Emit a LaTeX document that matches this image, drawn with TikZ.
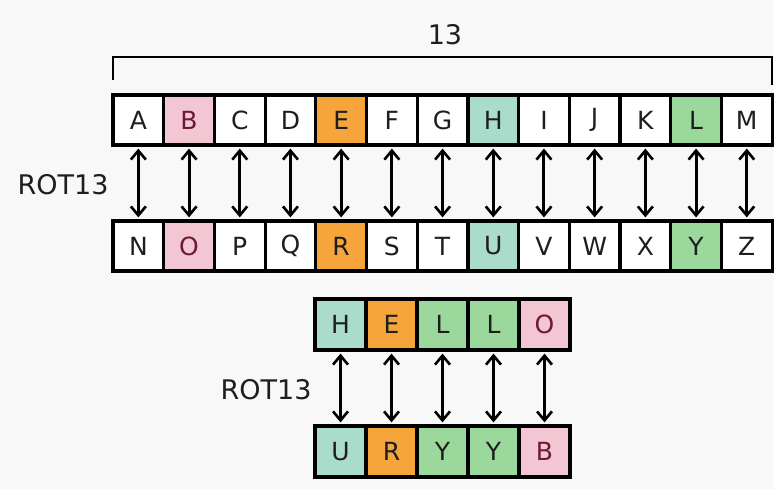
\documentclass[tikz,border=0pt]{standalone}
\usepackage{fontspec}
\setmainfont{DejaVu Sans}
\usetikzlibrary{arrows.meta}
\definecolor{bg}{HTML}{F8F8F8}
\definecolor{cpink}{HTML}{F2C6D2}
\definecolor{corange}{HTML}{F5A53A}
\definecolor{cteal}{HTML}{A9DCCB}
\definecolor{cgreen}{HTML}{9BD89B}
\definecolor{maroon}{HTML}{6B1A35}
\definecolor{ink}{HTML}{1E1E1E}
\tikzset{
  cell/.style={draw=black, line width=3.2pt, minimum width=50.7pt, minimum height=50pt,
    inner sep=0pt, font=\fontsize{25}{25}\selectfont, text=ink},
  cellb/.style={cell, minimum width=51pt, minimum height=51pt},
  dbl/.style={line width=3pt, {Straight Barb[length=9pt,width=15pt,line width=2.6pt]}-{Straight Barb[length=9pt,width=15pt,line width=2.6pt]}},
  lbl/.style={font=\fontsize{27}{27}\selectfont, text=ink, inner sep=0pt},
}
\begin{document}
\begin{tikzpicture}[x=1pt,y=-1pt]
\useasboundingbox (0,0) rectangle (774,489);
\fill[bg] (0,0) rectangle (774,489);
% brace
\draw[line width=2.6pt] (113,80) -- (113,57) -- (772,57) -- (772,85);
\node[lbl] (n13) at (445,35) {13};
% top rows
\foreach \t/\b/\f/\c [count=\i from 0] in {A/N/white/ink, B/O/cpink/maroon, C/P/white/ink, D/Q/white/ink, E/R/corange/ink, F/S/white/ink, G/T/white/ink, H/U/cteal/ink, I/V/white/ink, J/W/white/ink, K/X/white/ink, L/Y/cgreen/ink, M/Z/white/ink}{
  \node[cell, fill=\f, text=\c] (t\i) at ({138.35+50.7*\i},120) {\t};
  \node[cell, fill=\f, text=\c] (b\i) at ({138.35+50.7*\i},246) {\b};
  \path (t\i.south) ++(0,2) coordinate (ta\i);
  \path (b\i.north) ++(0,-2) coordinate (ba\i);
  \draw[dbl] (ta\i) -- (ba\i);
}
\node[lbl] (rot1) at (63,185) {ROT13};
% HELLO
\foreach \t/\b/\f/\c [count=\i from 0] in {H/U/cteal/ink, E/R/corange/ink, L/Y/cgreen/ink, L/Y/cgreen/ink, O/B/cpink/maroon}{
  \node[cellb, fill=\f, text=\c] (h\i) at ({340.5+51*\i},324.5) {\t};
  \node[cellb, fill=\f, text=\c] (u\i) at ({340.5+51*\i},451.5) {\b};
  \path (h\i.south) ++(0,2) coordinate (ha\i);
  \path (u\i.north) ++(0,-2) coordinate (ua\i);
  \draw[dbl] (ha\i) -- (ua\i);
}
\node[lbl] (rot2) at (266,390) {ROT13};
\end{tikzpicture}
\end{document}
